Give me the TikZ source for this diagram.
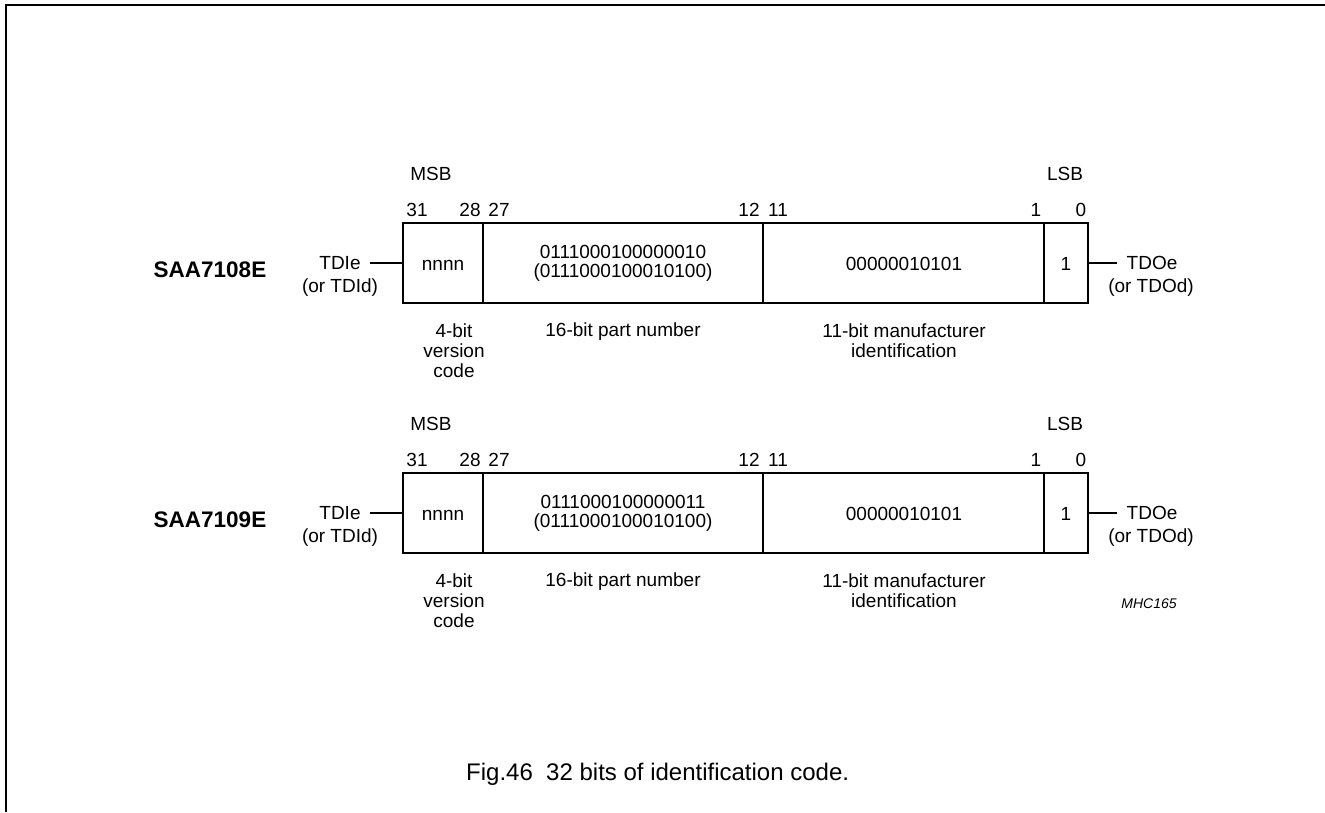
\documentclass[tikz,border=0pt]{standalone}
\usepackage{fontspec}
\setmainfont{Liberation Sans}
\usetikzlibrary{calc}
\begin{document}
\begin{tikzpicture}[x=1pt,y=-1pt,
  txt/.style={inner sep=0pt,anchor=base,font=\fontsize{19}{21}\selectfont},
  dev/.style={inner sep=0pt,anchor=base,font=\fontsize{22.5}{25}\selectfont\bfseries},
  box/.style={draw,line width=1.4pt},
  wire/.style={line width=1.2pt}]
\useasboundingbox (0,0) rectangle (1325,812);
\draw[line width=2pt] (6,812) -- (6,5) -- (1325,5);

\foreach \r/\dev/\pn in {0/SAA7108E/0111000100000010, 1/SAA7109E/0111000100000011}{
\begin{scope}[yshift=-250*\r pt]
  \node[txt] (msb\r) at (431,180) {MSB};
  \node[txt] (lsb\r) at (1065,180) {LSB};
  \node[txt] (b31\r) at (417,216) {31};
  \node[txt] (b28\r) at (470,216) {28};
  \node[txt] (b27\r) at (499,216) {27};
  \node[txt] (b12\r) at (749,216) {12};
  \node[txt] (b11\r) at (778,216) {11};
  \node[txt] (b1\r) at (1036,216) {1};
  \node[txt] (b0\r) at (1081,216) {0};
  \draw[box] (403,223) rectangle (1088,303);
  \draw[box] (483,223) -- (483,303);
  \draw[box] (763,223) -- (763,303);
  \draw[box] (1044,223) -- (1044,303);
  \coordinate (inL\r) at (403,263);
  \coordinate (inR\r) at (1088,263);
  \node[dev] (dev\r) at (210,277) {\dev};
  \node[txt] (tdi\r) at (340,269) {TDIe};
  \node[txt] (tdi2\r) at (340,292) {(or TDId)};
  \node[txt] (tdo\r) at (1152,269) {TDOe};
  \node[txt] (tdo2\r) at (1151,292) {(or TDOd)};
  \draw[wire] ($(tdi\r.east |- inL\r)+(9,0)$) -- (inL\r);
  \draw[wire] (inR\r) -- ($(tdo\r.west |- inR\r)+(-9,0)$);
  \node[txt] (ver\r) at (443,270) {nnnn};
  \node[txt] (pn\r) at (623,258) {\pn};
  \node[txt] (pnb\r) at (623,277) {(0111000100010100)};
  \node[txt] (man\r) at (904,270) {00000010101};
  \node[txt] (lb\r) at (1066,270) {1};
  \node[txt] (cver\r) at (454,337) {4-bit};
  \node[txt] (cverb\r) at (454,357) {version};
  \node[txt] (cverc\r) at (454,377) {code};
  \node[txt] (cpn\r) at (623,336) {16-bit part number};
  \node[txt] (cman\r) at (904,337) {11-bit manufacturer};
  \node[txt] (cmanb\r) at (904,357) {identification};
\end{scope}
}
\node[inner sep=0pt,anchor=base,font=\fontsize{14}{16}\selectfont\itshape] (mhc) at (1149,608) {MHC165};
\node[inner sep=0pt,anchor=base west,font=\fontsize{24}{26}\selectfont] (cap) at (466,780) {Fig.46\ \ 32 bits of identification code.};
\end{tikzpicture}
\end{document}
